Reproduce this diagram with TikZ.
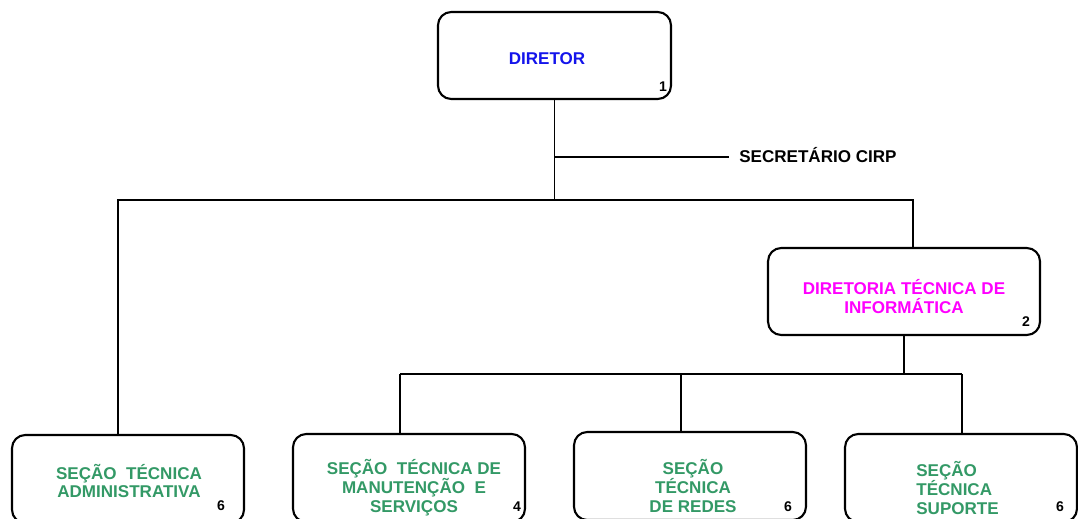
\documentclass[tikz,border=0pt]{standalone}
\usepackage{fontspec}
\setmainfont{Liberation Sans}
\usetikzlibrary{positioning,calc}
\definecolor{secgreen}{RGB}{51,153,102}
\definecolor{dirblue}{RGB}{20,20,235}
\definecolor{dtimag}{RGB}{255,0,255}

\begin{document}
\begin{tikzpicture}[x=0.02cm, y=-0.02cm,
    unit/.style={rectangle, draw=black, line width=1.2pt, rounded corners=7.5pt, minimum width=4.64cm, minimum height=1.76cm, inner sep=0pt},
    title/.style={font=\fontsize{9.7}{10.8}\selectfont\bfseries, align=center, inner sep=0pt},
    num/.style={font=\fontsize{8}{9}\selectfont\bfseries, inner sep=0pt},
    link/.style={line width=1.1pt}
]
\useasboundingbox (0,0) rectangle (1078,518);
\clip (0,0) rectangle (1078,518);

% Director
\node[unit, minimum width=4.66cm, minimum height=1.74cm] (dir) at (554.5,55.5) {};
\node[title, text=dirblue] (dirtxt) at (547,59) {DIRETOR};
\node[num] (dirnum) at (663,87) {1};

% Secretary
\node[title, anchor=west] (sec) at (739,155) {SECRET\'ARIO CIRP};
\coordinate (secend) at (729,157);

% Diretoria tecnica
\node[unit, minimum width=5.44cm, minimum height=1.74cm] (dti) at (904,291.5) {};
\node[title, text=dtimag] (dtitxt) at (904,297) {DIRETORIA T\'ECNICA DE\\INFORM\'ATICA};
\node[num] (dtinum) at (1026,322) {2};

% Sections
\node[unit] (adm) at (128,479) {};
\node[title, text=secgreen] (admtxt) at (129,481) {SE\c{C}\~AO\ \ T\'ECNICA\\ADMINISTRATIVA};
\node[num] (admnum) at (221,506) {6};

\node[unit] (man) at (409,478) {};
\node[title, text=secgreen] (mantxt) at (414,488) {SE\c{C}\~AO\ \ T\'ECNICA DE\\MANUTEN\c{C}\~AO\ \ E\\SERVI\c{C}OS};
\node[num] (mannum) at (517,507) {4};

\node[unit] (red) at (690,476) {};
\node[title, text=secgreen] (redtxt) at (693,486) {SE\c{C}\~AO\\T\'ECNICA\\DE REDES};
\node[num] (rednum) at (788,507) {6};

\node[unit] (sup) at (961,478) {};
\node[title, text=secgreen, align=left, anchor=west] (suptxt) at (916,488) {SE\c{C}\~AO\\T\'ECNICA\\SUPORTE};
\node[num] (supnum) at (1060,507) {6};

% Connectors
\coordinate (jtop) at (554.5,200);
\coordinate (jadm) at (118,200);
\coordinate (jdti) at (913,200);
\draw[link] (dir.south) -- (jtop);
\draw[link] (dir.south |- secend) -- (secend);
\draw[link] (jadm |- adm.north) -- (jadm) -- (jdti) -- (jdti |- dti.north);

\coordinate (jsec) at (904,374);
\coordinate (jman) at (400,374);
\coordinate (jred) at (681,374);
\coordinate (jsup) at (962,374);
\draw[link] (dti.south) -- (jsec);
\draw[link] (jman) -- (jsup);
\draw[link] (jman) -- (jman |- man.north);
\draw[link] (jred) -- (jred |- red.north);
\draw[link] (jsup) -- (jsup |- sup.north);

\end{tikzpicture}
\end{document}
